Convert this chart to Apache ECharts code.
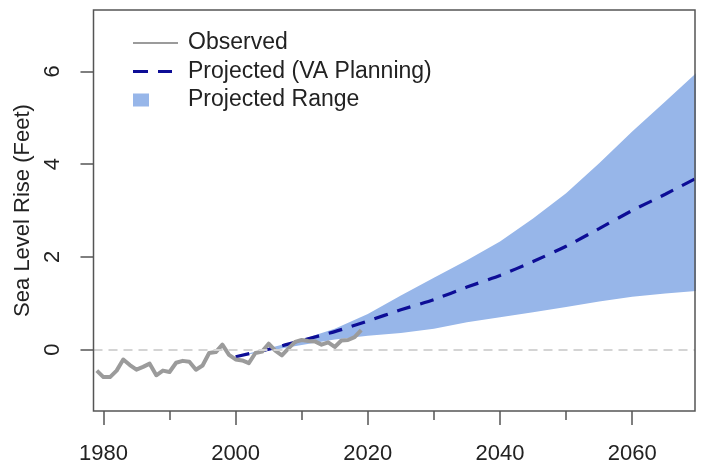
<!DOCTYPE html>
<html>
<head>
<meta charset="utf-8">
<script src="https://cdn.jsdelivr.net/npm/echarts@6/dist/echarts.min.js"></script>
<style>
  html, body { margin: 0; padding: 0; background: #fff; }
  #main { width: 702px; height: 466px; }
</style>
</head>
<body>
<div id="main"></div>
<script>
// observed annual sea level (feet), 1979-2019
var obsYears = [1979, 1980, 1981, 1982, 1983, 1984, 1985, 1986, 1987, 1988,
                1989, 1990, 1991, 1992, 1993, 1994, 1995, 1996, 1997, 1998,
                1999, 2000, 2001, 2002, 2003, 2004, 2005, 2006, 2007, 2008,
                2009, 2010, 2011, 2012, 2013, 2014, 2015, 2016, 2017, 2018, 2019];
var obsValues = [-0.45, -0.59, -0.59, -0.45, -0.21, -0.33, -0.43, -0.37, -0.30, -0.55,
                 -0.45, -0.48, -0.28, -0.24, -0.26, -0.43, -0.34, -0.07, -0.05, 0.11,
                 -0.11, -0.21, -0.23, -0.29, -0.07, -0.04, 0.13, -0.02, -0.12, 0.03,
                 0.17, 0.21, 0.19, 0.18, 0.11, 0.16, 0.06, 0.20, 0.21, 0.27, 0.42];

// projections every 5 years
var projYears = [2000, 2005, 2010, 2015, 2020, 2025, 2030, 2035, 2040, 2045, 2050, 2055, 2060, 2065, 2070];
var projMid   = [-0.15, 0.01, 0.20, 0.39, 0.62, 0.86, 1.08, 1.35, 1.60, 1.90, 2.23, 2.61, 3.00, 3.35, 3.72];
var projHigh  = [-0.15, 0.03, 0.22, 0.45, 0.77, 1.17, 1.55, 1.93, 2.33, 2.83, 3.37, 4.02, 4.70, 5.35, 6.00];
var projLow   = [-0.15, -0.02, 0.10, 0.22, 0.30, 0.36, 0.45, 0.59, 0.70, 0.81, 0.92, 1.04, 1.14, 1.21, 1.27];

var majorTicks = [1980, 2000, 2020, 2040, 2060];
var minorTicks = [1990, 2010, 2030, 2050];
var yTicks = [0, 2, 4, 6];

var obsData = obsYears.map(function (y, i) { return [y, obsValues[i]]; });
var midData = projYears.map(function (y, i) { return [y, projMid[i]]; });
var bandData = projYears.map(function (y, i) { return [y, projLow[i], projHigh[i]]; });

var bandColor = '#97b6e9';
var textColor = '#222';
var axisColor = '#555';
var font = 'Liberation Sans, Arial, sans-serif';

// band polygon: upper edge forward, lower edge back
function renderBand(params, api) {
    if (params.dataIndex !== 0) return;
    var pts = [];
    for (var i = 0; i < bandData.length; i++) {
        pts.push(api.coord([bandData[i][0], bandData[i][2]]));
    }
    for (var j = bandData.length - 1; j >= 0; j--) {
        pts.push(api.coord([bandData[j][0], bandData[j][1]]));
    }
    return {
        type: 'polygon',
        shape: { points: pts },
        style: { fill: bandColor }
    };
}

var myEcharts = echarts.init(document.getElementById('main'));
var option = {
    animation: false,
    grid: {
        left: 93.5, right: 7, top: 10, bottom: 55, z: 10,
        show: true, borderColor: axisColor, borderWidth: 1.5, backgroundColor: 'transparent'
    },
    legend: {
        orient: 'vertical',
        left: 133, top: 31, padding: 0,
        itemWidth: 45, itemHeight: 13, itemGap: 4.5,
        selectedMode: false,
        textStyle: { fontSize: 23, color: textColor, fontFamily: font, lineHeight: 24, padding: [0, 0, 0, 5] },
        data: [
            { name: 'Observed', icon: 'path://M0,5.5H45V7.5H0Z M0,0L0.01,0L0,0.01Z M45,13L44.99,13L45,12.99Z',
              itemStyle: { color: '#9b9b9b' } },
            { name: 'Projected (VA Planning)', icon: 'path://M0,5H15V8H0Z M25,5H39V8H25Z M0,0L0.01,0L0,0.01Z M45,13L44.99,13L45,12.99Z',
              itemStyle: { color: '#0d0d96' } },
            { name: 'Projected Range', icon: 'path://M0,0H16V13H0Z M45,6.5L44.99,6.5L45,6.49Z',
              itemStyle: { color: bandColor } }
        ]
    },
    xAxis: [{
        type: 'value', min: 1978.5, max: 2069.5,
        axisLine: { show: false, onZero: false },
        splitLine: { show: false },
        axisTick: { show: true, customValues: majorTicks, length: 14, lineStyle: { color: axisColor, width: 1.5 } },
        axisLabel: { customValues: majorTicks, margin: 32, fontSize: 22, color: textColor, fontFamily: font,
                     formatter: function (v) { return String(v); } }
    }, {
        type: 'value', min: 1978.5, max: 2069.5, position: 'bottom',
        axisLine: { show: false, onZero: false },
        splitLine: { show: false },
        axisTick: { show: true, customValues: minorTicks, length: 9, lineStyle: { color: axisColor, width: 1.5 } },
        axisLabel: { show: false }
    }],
    yAxis: {
        type: 'value', min: -1.32, max: 7.32,
        name: 'Sea Level Rise (Feet)', nameLocation: 'middle', nameRotate: 90, nameGap: 49,
        nameTextStyle: { fontSize: 22, color: textColor, fontFamily: font },
        axisLine: { show: false, onZero: false },
        splitLine: { show: false },
        axisTick: { show: true, customValues: yTicks, length: 13, lineStyle: { color: axisColor, width: 1.5 } },
        axisLabel: { customValues: yTicks, rotate: 90, margin: 30, fontSize: 22, color: textColor, fontFamily: font }
    },
    series: [
        {
            name: 'zero', type: 'line', data: [],
            markLine: {
                silent: true, symbol: 'none', label: { show: false },
                lineStyle: { color: '#d4d4d4', type: [9, 6], width: 2 },
                data: [{ yAxis: 0 }]
            }
        },
        {
            name: 'Projected Range', type: 'custom', data: bandData,
            renderItem: renderBand, clip: true, silent: true,
            itemStyle: { color: bandColor },
            encode: { x: 0, y: [1, 2] }
        },
        {
            name: 'Projected (VA Planning)', type: 'line', data: midData,
            symbol: 'none', smooth: 0.2, color: '#0d0d96',
            lineStyle: { color: '#0d0d96', width: 3.2, type: [14, 10] }
        },
        {
            name: 'Observed', type: 'line', data: obsData,
            symbol: 'none', color: '#9b9b9b',
            lineStyle: { color: '#9b9b9b', width: 4, join: 'round' }
        }
    ]
};
//关联echarts实例与配置项
myEcharts.setOption(option);
</script>
</body>
</html>
